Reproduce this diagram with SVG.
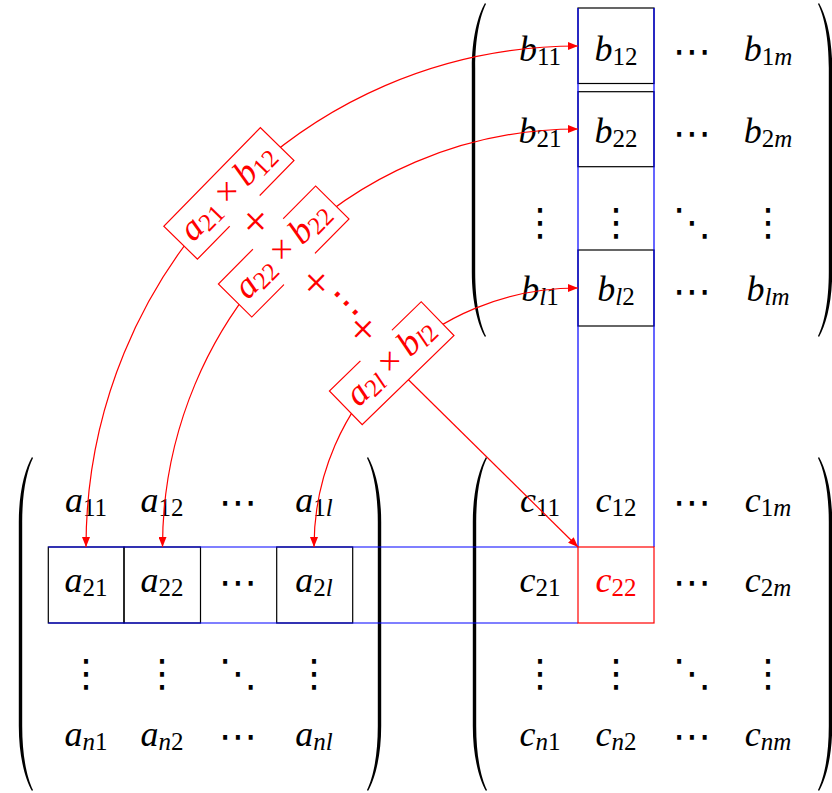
<svg xmlns="http://www.w3.org/2000/svg" width="832" height="793" viewBox="0 0 832 793">
<style>
.m{font-size:36px;text-anchor:middle;fill:#000}
.i{font-style:italic}
.s{font-size:25px}
.p{font-size:46px;text-anchor:middle;fill:#f00}
.d{font-size:38px;text-anchor:middle;fill:#000}
.red{fill:#f00}
.bx{fill:none;stroke:#000;stroke-width:1.2}
.bl{fill:none;stroke:#00f;stroke-width:1.2}
.rb{fill:none;stroke:#f00;stroke-width:1.2}
.cn{fill:none;stroke:#f00;stroke-width:1.2}
.lb{fill:#fff;stroke:#f00;stroke-width:1.2}
.wh{fill:#fff;stroke:none}
.paren{fill:#000}
</style>
<defs>
<path id="lp" d="M0,0 C-7,12 -13.2,35 -13.2,65 L-13.2,269 C-13.2,299 -7,322 0,334 L1,333 C-5,321 -9.8,299 -9.8,269 L-9.8,65 C-9.8,35 -5,13 1,1 Z"/>
<marker id="ah" viewBox="0 -4 10 8" refX="10" refY="0" markerWidth="10" markerHeight="8" markerUnits="userSpaceOnUse" orient="auto-start-reverse"><path d="M0,-4 L10,0 L0,4 Z" fill="#f00"/></marker>
</defs>

<g id="parens" class="paren">
<use href="#lp" transform="translate(485,3)"/>
<use href="#lp" transform="translate(819,3) scale(-1,1)"/>
<use href="#lp" transform="translate(32,457)"/>
<use href="#lp" transform="translate(368,457) scale(-1,1)"/>
<use href="#lp" transform="translate(486,457)"/>
<use href="#lp" transform="translate(819,457) scale(-1,1)"/>
</g>

<g id="boxes">
<rect class="bx" x="578" y="8" width="76" height="75.5"/>
<rect class="bx" x="578" y="91.7" width="76" height="75"/>
<rect class="bx" x="578" y="250" width="76" height="76"/>
<rect class="bx" x="48.3" y="547" width="75.7" height="76"/>
<rect class="bx" x="124" y="547" width="76.5" height="76"/>
<rect class="bx" x="276.7" y="547" width="76" height="76"/>
<path class="bl" d="M578,8 V547 M654,8 V547 M48.3,547 H578 M48.3,623 H578"/>
<rect class="rb" x="578" y="547" width="76" height="76"/>
</g>

<g id="matrixB">
<g font-family="Liberation Serif, DejaVu Serif, serif">
<text class="m" x="540" y="61"><tspan class="i">b</tspan><tspan class="s" dy="4">11</tspan></text>
<text class="m" x="616" y="61"><tspan class="i">b</tspan><tspan class="s" dy="4">12</tspan></text>
<text class="m" x="768" y="61"><tspan class="i">b</tspan><tspan class="s" dy="4">1</tspan><tspan class="s i">m</tspan></text>
<text class="m" x="540" y="143"><tspan class="i">b</tspan><tspan class="s" dy="4">21</tspan></text>
<text class="m" x="616" y="143"><tspan class="i">b</tspan><tspan class="s" dy="4">22</tspan></text>
<text class="m" x="768" y="143"><tspan class="i">b</tspan><tspan class="s" dy="4">2</tspan><tspan class="s i">m</tspan></text>
<text class="m" x="540" y="301"><tspan class="i">b</tspan><tspan class="s i" dy="4">l</tspan><tspan class="s">1</tspan></text>
<text class="m" x="616" y="301"><tspan class="i">b</tspan><tspan class="s i" dy="4">l</tspan><tspan class="s">2</tspan></text>
<text class="m" x="768" y="301"><tspan class="i">b</tspan><tspan class="s i" dy="4">lm</tspan></text>
</g>
<g font-family="DejaVu Sans, sans-serif">
<text class="d" x="692" y="64">⋯</text>
<text class="d" x="692" y="146">⋯</text>
<text class="d" x="540" y="235">⋮</text>
<text class="d" x="616" y="235">⋮</text>
<text class="d" x="692" y="235">⋱</text>
<text class="d" x="768" y="235">⋮</text>
<text class="d" x="692" y="304">⋯</text>
</g>
</g>

<g id="matrixA">
<g font-family="Liberation Serif, DejaVu Serif, serif">
<text class="m" x="86" y="512"><tspan class="i">a</tspan><tspan class="s" dy="4">11</tspan></text>
<text class="m" x="162" y="512"><tspan class="i">a</tspan><tspan class="s" dy="4">12</tspan></text>
<text class="m" x="314" y="512"><tspan class="i">a</tspan><tspan class="s" dy="4">1</tspan><tspan class="s i">l</tspan></text>
<text class="m" x="86" y="592"><tspan class="i">a</tspan><tspan class="s" dy="4">21</tspan></text>
<text class="m" x="162" y="592"><tspan class="i">a</tspan><tspan class="s" dy="4">22</tspan></text>
<text class="m" x="314" y="592"><tspan class="i">a</tspan><tspan class="s" dy="4">2</tspan><tspan class="s i">l</tspan></text>
<text class="m" x="86" y="746"><tspan class="i">a</tspan><tspan class="s i" dy="4">n</tspan><tspan class="s">1</tspan></text>
<text class="m" x="162" y="746"><tspan class="i">a</tspan><tspan class="s i" dy="4">n</tspan><tspan class="s">2</tspan></text>
<text class="m" x="314" y="746"><tspan class="i">a</tspan><tspan class="s i" dy="4">nl</tspan></text>
</g>
<g font-family="DejaVu Sans, sans-serif">
<text class="d" x="238" y="515">⋯</text>
<text class="d" x="238" y="595">⋯</text>
<text class="d" x="86" y="686">⋮</text>
<text class="d" x="162" y="686">⋮</text>
<text class="d" x="238" y="686">⋱</text>
<text class="d" x="314" y="686">⋮</text>
<text class="d" x="238" y="749">⋯</text>
</g>
</g>

<g id="matrixC">
<g font-family="Liberation Serif, DejaVu Serif, serif">
<text class="m" x="540" y="512"><tspan class="i">c</tspan><tspan class="s" dy="4">11</tspan></text>
<text class="m" x="616" y="512"><tspan class="i">c</tspan><tspan class="s" dy="4">12</tspan></text>
<text class="m" x="768" y="512"><tspan class="i">c</tspan><tspan class="s" dy="4">1</tspan><tspan class="s i">m</tspan></text>
<text class="m" x="540" y="592"><tspan class="i">c</tspan><tspan class="s" dy="4">21</tspan></text>
<text class="m red" x="616" y="592"><tspan class="i">c</tspan><tspan class="s" dy="4">22</tspan></text>
<text class="m" x="768" y="592"><tspan class="i">c</tspan><tspan class="s" dy="4">2</tspan><tspan class="s i">m</tspan></text>
<text class="m" x="540" y="746"><tspan class="i">c</tspan><tspan class="s i" dy="4">n</tspan><tspan class="s">1</tspan></text>
<text class="m" x="616" y="746"><tspan class="i">c</tspan><tspan class="s i" dy="4">n</tspan><tspan class="s">2</tspan></text>
<text class="m" x="768" y="746"><tspan class="i">c</tspan><tspan class="s i" dy="4">nm</tspan></text>
</g>
<g font-family="DejaVu Sans, sans-serif">
<text class="d" x="692" y="515">⋯</text>
<text class="d" x="692" y="595">⋯</text>
<text class="d" x="540" y="686">⋮</text>
<text class="d" x="616" y="686">⋮</text>
<text class="d" x="692" y="686">⋱</text>
<text class="d" x="768" y="686">⋮</text>
<text class="d" x="692" y="749">⋯</text>
</g>
</g>

<g id="connectors">
<path class="cn" d="M86,547 C86,272 303,46 578,46" marker-start="url(#ah)" marker-end="url(#ah)"/>
<path class="cn" d="M162.5,547 C162.5,316.3 347.3,129 578,129" marker-start="url(#ah)" marker-end="url(#ah)"/>
<path class="cn" d="M314,547 C314,402.2 433.2,288 578,288" marker-start="url(#ah)" marker-end="url(#ah)"/>
<path class="cn" d="M391.7,363.2 L578,547" marker-end="url(#ah)"/>
</g>

<g font-family="Liberation Serif, DejaVu Serif, serif">
<g id="label1" transform="translate(228.9,193.4) rotate(-45.6)">
<rect class="lb" x="-69" y="-23.5" width="138" height="47"/>
<text class="m red" x="0" y="9"><tspan class="i">a</tspan><tspan class="s" dy="4">21</tspan><tspan dy="-4" dx="7">×</tspan><tspan class="i" dx="7">b</tspan><tspan class="s" dy="4">12</tspan></text>
</g>
<g id="label2" transform="translate(283.7,251.5) rotate(-45.2)">
<rect class="lb" x="-69" y="-23.5" width="138" height="47"/>
<text class="m red" x="0" y="9"><tspan class="i">a</tspan><tspan class="s" dy="4">22</tspan><tspan dy="-4" dx="7">×</tspan><tspan class="i" dx="7">b</tspan><tspan class="s" dy="4">22</tspan></text>
</g>
<g id="label3" transform="translate(391.7,363.2) rotate(-44.2)">
<rect class="lb" x="-64" y="-23.5" width="128" height="47"/>
<text class="m red" x="0" y="9"><tspan class="i">a</tspan><tspan class="s" dy="4">2</tspan><tspan class="s i">l</tspan><tspan dy="-4" dx="7">×</tspan><tspan class="i" dx="7">b</tspan><tspan class="s i" dy="4">l</tspan><tspan class="s">2</tspan></text>
</g>
<g id="plus1" transform="translate(257,223) rotate(-45.4)">
<rect class="wh" x="-21.5" y="-20" width="43" height="40"/>
<text class="p" x="0" y="13">+</text>
</g>
<g id="plusdots" transform="translate(338,307.5) rotate(45)">
<rect class="wh" x="-57" y="-22" width="114" height="44"/>
<text class="p" y="13"><tspan x="-33">+</tspan><tspan x="33">+</tspan></text>
<text class="d red" x="3" y="3" font-family="DejaVu Sans, sans-serif" font-size="34">⋯</text>
</g>
</g>
</svg>
